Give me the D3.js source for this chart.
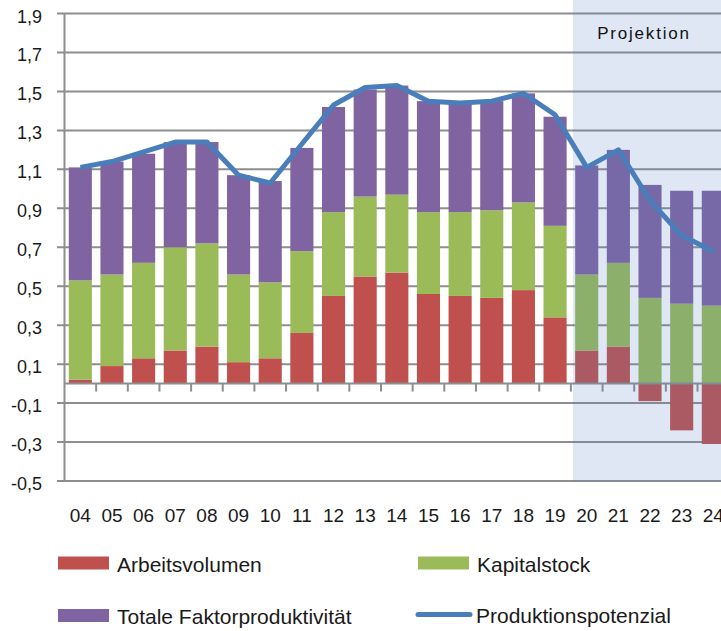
<!DOCTYPE html>
<meta charset="utf-8">

<head>
    <script src="https://cdn.jsdelivr.net/npm/d3@7"></script>
</head>
<style>
    body {
        margin: 0;
        background: #fff;
    }

    svg {
        display: block;
        font-family: "Liberation Sans", Arial, sans-serif;
    }
</style>

<body>
    <svg id="chart" width="721" height="631"></svg>
    <script>
        'use strict';

        // years (20xx) and contributions in percentage points
        const years = ['04', '05', '06', '07', '08', '09', '10', '11', '12', '13', '14',
            '15', '16', '17', '18', '19', '20', '21', '22', '23', '24'];
        const arbeitsvolumen = [0.02, 0.09, 0.13, 0.17, 0.19, 0.11, 0.13, 0.26, 0.45, 0.55, 0.57,
            0.46, 0.45, 0.44, 0.48, 0.34, 0.17, 0.19, -0.09, -0.24, -0.31];
        const kapitalstock = [0.51, 0.47, 0.49, 0.53, 0.53, 0.45, 0.39, 0.42, 0.43, 0.41, 0.40,
            0.42, 0.43, 0.45, 0.45, 0.47, 0.39, 0.43, 0.44, 0.41, 0.40];
        const tfp = [0.58, 0.58, 0.56, 0.54, 0.52, 0.51, 0.52, 0.53, 0.54, 0.55, 0.56,
            0.57, 0.56, 0.56, 0.56, 0.56, 0.56, 0.58, 0.58, 0.58, 0.59];
        const potenzial = [1.11, 1.14, 1.19, 1.24, 1.24, 1.07, 1.03, 1.23, 1.43, 1.52, 1.53,
            1.45, 1.44, 1.45, 1.49, 1.38, 1.11, 1.20, 0.94, 0.76, 0.68];
        const yTicks = [-0.5, -0.3, -0.1, 0.1, 0.3, 0.5, 0.7, 0.9, 1.1, 1.3, 1.5, 1.7, 1.9];
        const projectionStart = '20';

        const seriesKeys = ['arbeit', 'kapital', 'tfp'];
        const seriesNames = ['Arbeitsvolumen', 'Kapitalstock', 'Totale Faktorproduktivität'];
        const colors = { arbeit: '#c0504d', kapital: '#9bbb59', tfp: '#8064a2', line: '#4a7ebb' };
        const gridColor = '#8e8e8e';

        const svg = d3.select('#chart');
        const left = 64.5, step = 31.65;

        const x = d3.scaleBand()
            .domain(years)
            .range([left, left + step * years.length])
            .paddingInner(0.27)
            .paddingOuter(0.135);

        const y = d3.scaleLinear().domain([-0.5, 1.9]).range([481, 13.5]);

        const table = years.map((yr, i) => ({
            year: yr,
            arbeit: arbeitsvolumen[i],
            kapital: kapitalstock[i],
            tfp: tfp[i]
        }));

        const stacked = d3.stack()
            .keys(seriesKeys)
            .offset(d3.stackOffsetDiverging)(table);

        // gridlines (extend left as ticks)
        svg.append('g')
            .selectAll('line')
            .data(yTicks)
            .enter().append('line')
            .attr('x1', left - 7.5)
            .attr('x2', 721)
            .attr('y1', (d) => y(d))
            .attr('y2', (d) => y(d))
            .attr('stroke', gridColor)
            .attr('stroke-width', 2);

        // y tick labels
        svg.append('g')
            .selectAll('text')
            .data(yTicks)
            .enter().append('text')
            .attr('x', 42)
            .attr('y', (d) => y(d) + 9)
            .attr('text-anchor', 'end')
            .attr('font-size', 18)
            .attr('fill', '#1a1a1a')
            .text((d) => d3.format('.1f')(d).replace('.', ',').replace('−', '-'));

        // bars
        svg.append('g')
            .selectAll('g')
            .data(stacked)
            .enter().append('g')
            .attr('fill', (d) => colors[d.key])
            .selectAll('rect')
            .data((d) => d)
            .enter().append('rect')
            .attr('x', (d) => x(d.data.year))
            .attr('width', x.bandwidth())
            .attr('y', (d) => y(Math.max(d[0], d[1])))
            .attr('height', (d) => Math.abs(y(d[0]) - y(d[1])));

        // axes
        svg.append('line')
            .attr('x1', left).attr('x2', left)
            .attr('y1', y(1.9)).attr('y2', y(-0.5))
            .attr('stroke', gridColor).attr('stroke-width', 2);

        svg.append('line')
            .attr('x1', left).attr('x2', 721)
            .attr('y1', y(0)).attr('y2', y(0))
            .attr('stroke', gridColor).attr('stroke-width', 2);

        svg.append('g')
            .selectAll('line')
            .data(years.slice(1))
            .enter().append('line')
            .attr('x1', (d) => x(d) - x.step() * x.paddingInner() / 2)
            .attr('x2', (d) => x(d) - x.step() * x.paddingInner() / 2)
            .attr('y1', y(0))
            .attr('y2', y(0) + 8)
            .attr('stroke', gridColor)
            .attr('stroke-width', 2);

        // x labels
        svg.append('g')
            .selectAll('text')
            .data(years)
            .enter().append('text')
            .attr('x', (d) => x(d) + x.bandwidth() / 2)
            .attr('y', 521.5)
            .attr('text-anchor', 'middle')
            .attr('font-size', 19)
            .attr('fill', '#1a1a1a')
            .text((d) => d);

        // projection shading
        const projX = x(projectionStart) - x.step() * x.paddingInner() / 2 + 2;
        svg.append('rect')
            .attr('x', projX)
            .attr('y', 0)
            .attr('width', 721 - projX)
            .attr('height', y(-0.5) + 1)
            .attr('fill', '#4f81bd')
            .attr('opacity', 0.19);

        svg.append('text')
            .attr('x', 644)
            .attr('y', 38.5)
            .attr('text-anchor', 'middle')
            .attr('font-size', 17)
            .attr('letter-spacing', 1.8)
            .attr('fill', '#111')
            .text('Projektion');

        // potential output line
        const line = d3.line()
            .x((d, i) => x(years[i]) + x.bandwidth() / 2)
            .y((d) => y(d));

        svg.append('path')
            .datum(potenzial)
            .attr('d', line)
            .attr('fill', 'none')
            .attr('stroke', colors.line)
            .attr('stroke-width', 5)
            .attr('stroke-linejoin', 'round')
            .attr('stroke-linecap', 'butt');

        // legend
        const legendItems = [
            { name: seriesNames[0], color: colors.arbeit, type: 'rect', x: 58, y: 563 },
            { name: seriesNames[1], color: colors.kapital, type: 'rect', x: 418, y: 563 },
            { name: seriesNames[2], color: colors.tfp, type: 'rect', x: 58, y: 615.5 },
            { name: 'Produktionspotenzial', color: colors.line, type: 'line', x: 416, y: 614.5 }
        ];

        const legend = svg.append('g')
            .selectAll('g')
            .data(legendItems)
            .enter().append('g');

        legend.filter((d) => d.type === 'rect').append('rect')
            .attr('x', (d) => d.x)
            .attr('y', (d) => d.y - 6.5)
            .attr('width', 51)
            .attr('height', 13)
            .attr('fill', (d) => d.color);

        legend.filter((d) => d.type === 'line').append('line')
            .attr('x1', (d) => d.x + 2)
            .attr('x2', (d) => d.x + 54)
            .attr('y1', (d) => d.y)
            .attr('y2', (d) => d.y)
            .attr('stroke', (d) => d.color)
            .attr('stroke-width', 5)
            .attr('stroke-linecap', 'round');

        legend.append('text')
            .attr('x', (d) => d.x + (d.type === 'line' ? 60 : 59))
            .attr('y', (d) => d.y + 8.5)
            .attr('font-size', 21)
            .attr('fill', '#1a1a1a')
            .text((d) => d.name);
    </script>
</body>
